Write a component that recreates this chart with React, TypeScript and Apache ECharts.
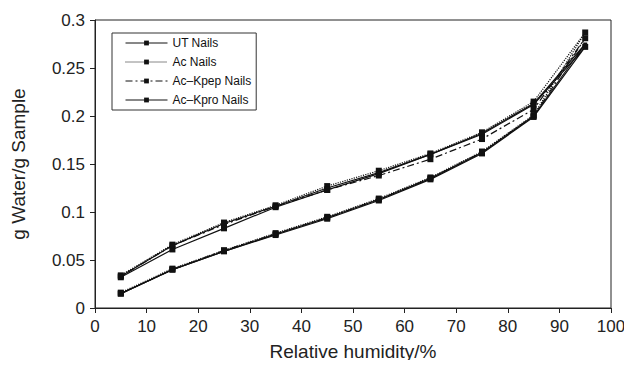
import React, { useEffect, useRef } from "react";
import * as echarts from "echarts";

const humidity = [5, 15, 25, 35, 45, 55, 65, 75, 85, 95];

const utAds = [0.015, 0.040, 0.059, 0.076, 0.093, 0.112, 0.134, 0.161, 0.199, 0.272];
const utDes = [0.032, 0.061, 0.083, 0.105, 0.123, 0.140, 0.160, 0.181, 0.212, 0.272];
const acAds = [0.016, 0.041, 0.060, 0.078, 0.095, 0.114, 0.136, 0.163, 0.201, 0.287];
const acDes = [0.034, 0.066, 0.089, 0.107, 0.127, 0.143, 0.161, 0.183, 0.215, 0.287];
const kpepAds = [0.015, 0.040, 0.060, 0.077, 0.094, 0.113, 0.135, 0.162, 0.200, 0.281];
const kpepDes = [0.033, 0.065, 0.087, 0.106, 0.123, 0.138, 0.155, 0.176, 0.207, 0.281];
const kproAds = [0.015, 0.040, 0.059, 0.077, 0.094, 0.113, 0.135, 0.162, 0.200, 0.275];
const kproDes = [0.033, 0.065, 0.088, 0.106, 0.125, 0.141, 0.160, 0.182, 0.213, 0.275];

const seriesNames = ["UT Nails", "Ac Nails", "Ac–Kpep Nails", "Ac–Kpro Nails"];

function loop(ads: number[], des: number[]) {
  const up = humidity.map((h, i) => [h, ads[i]]);
  const down = humidity
    .map((h, i) => [h, des[i]])
    .slice(0, humidity.length - 1)
    .reverse();
  return [...up, ...down];
}

export default function App() {
  const ref = useRef<HTMLDivElement>(null);
  useEffect(() => {
    if (!ref.current) return;
    const chart = echarts.init(ref.current, null, { renderer: "svg" });
    const font = "Liberation Sans, Arial, sans-serif";
    const mk = (
      name: string,
      data: number[][],
      type: any,
      symbolSize: any
    ) => ({
      name,
      type: "line",
      data,
      symbol: "rect",
      symbolSize,
      itemStyle: { color: "#111" },
      lineStyle: { color: "#111", width: 1.2, type },
      emphasis: { disabled: true },
    });
    chart.setOption({
      animation: false,
      backgroundColor: "#fff",
      grid: {
        left: 95,
        right: 21,
        top: 20,
        bottom: 60,
        show: true,
        borderColor: "#222",
        borderWidth: 1,
      },
      legend: {
        orient: "vertical",
        left: 112,
        top: 33,
        padding: [4, 5, 4, 13],
        itemWidth: 42,
        itemHeight: 6,
        itemGap: 7,
        itemTextGap: 3,
        borderColor: "#333",
        borderWidth: 1,
        lineStyle: { width: 1 },
        textStyle: { fontFamily: font, fontSize: 12, color: "#111" },
        data: seriesNames,
      },
      xAxis: {
        type: "value",
        min: 0,
        max: 100,
        interval: 10,
        name: "Relative humidity/%",
        nameLocation: "middle",
        nameGap: 34,
        nameTextStyle: { fontFamily: font, fontSize: 19, color: "#222" },
        axisLine: { lineStyle: { color: "#222" } },
        axisTick: { inside: false, length: 5, lineStyle: { color: "#222" } },
        axisLabel: { fontFamily: font, fontSize: 17, color: "#222", margin: 10 },
        splitLine: { show: false },
      },
      yAxis: {
        type: "value",
        min: 0,
        max: 0.3,
        interval: 0.05,
        name: "g Water/g Sample",
        nameLocation: "middle",
        nameGap: 67,
        nameTextStyle: { fontFamily: font, fontSize: 19, color: "#222" },
        axisLine: { show: true, lineStyle: { color: "#222" } },
        axisTick: { show: true, inside: false, length: 5, lineStyle: { color: "#222" } },
        axisLabel: { fontFamily: font, fontSize: 17, color: "#222", margin: 10 },
        splitLine: { show: false },
      },
      series: [
        mk(seriesNames[0], loop(utAds, utDes), "solid", [6, 6]),
        mk(seriesNames[1], loop(acAds, acDes), "dotted", [6, 6]),
        mk(seriesNames[2], loop(kpepAds, kpepDes), [7, 3, 2, 3], [6, 6]),
        mk(seriesNames[3], loop(kproAds, kproDes), "solid", [4, 3]),
      ],
    });
    return () => chart.dispose();
  }, []);
  return <div ref={ref} style={{ width: 632, height: 368, margin: -8 }} />;
}
